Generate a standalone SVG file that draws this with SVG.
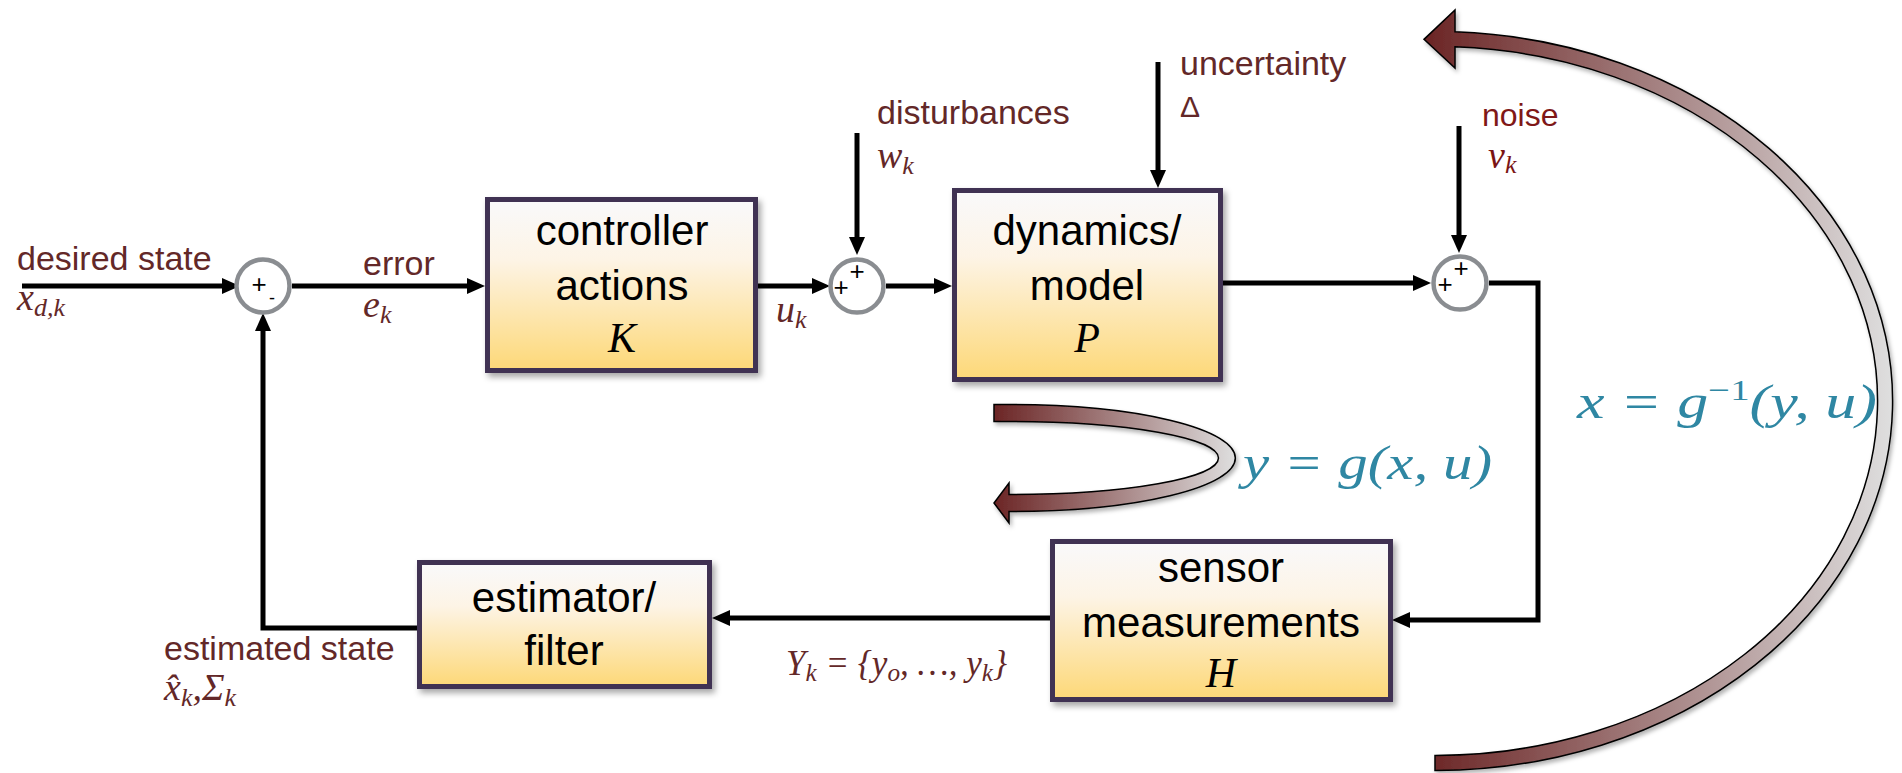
<svg xmlns="http://www.w3.org/2000/svg" width="1902" height="773" viewBox="0 0 1902 773">
  <style>
    .box { stroke: #3f3152; stroke-width: 5; fill: url(#boxFill); filter: url(#shadow); }
    .boxText { font-family: "Liberation Sans", Arial, sans-serif; font-size: 42px; fill: #000; text-anchor: middle; }
    .sym { font-family: "Liberation Serif", "Times New Roman", serif; font-style: italic; font-size: 42px; fill: #000; text-anchor: middle; }
    .label { font-family: "Liberation Sans", Arial, sans-serif; font-size: 34px; fill: #632828; }
    .math { font-family: "Liberation Serif", "Times New Roman", serif; font-style: italic; font-size: 38px; fill: #632828; }
    .sub { font-size: 26px; }
    .teal { font-family: "Liberation Serif", "Times New Roman", serif; font-style: italic; font-size: 48px; fill: #2f87a3; }
    .wire { fill: none; stroke: #000; stroke-width: 5; }
    .arrowed { marker-end: url(#head); }
    .sum { fill: #fff; stroke: #8a8d91; stroke-width: 4.5; }
    .sign { font-family: "Liberation Sans", Arial, sans-serif; font-size: 26px; fill: #000; text-anchor: middle; }
    .ribbon { stroke: #000; stroke-width: 1.5; filter: url(#softShadow); }
  </style>
  <defs>
    <linearGradient id="boxFill" x1="0" y1="0" x2="0" y2="1">
      <stop offset="0" stop-color="#f9f9fb"/>
      <stop offset="0.35" stop-color="#fdf4e6"/>
      <stop offset="1" stop-color="#fdd877"/>
    </linearGradient>
    <linearGradient id="bigBand" gradientUnits="userSpaceOnUse" x1="1425" y1="0" x2="1890" y2="0">
      <stop offset="0" stop-color="#6b2525"/>
      <stop offset="1" stop-color="#dedede"/>
    </linearGradient>
    <linearGradient id="smallBand" gradientUnits="userSpaceOnUse" x1="994" y1="0" x2="1235" y2="0">
      <stop offset="0" stop-color="#6b2525"/>
      <stop offset="1" stop-color="#dedede"/>
    </linearGradient>
    <filter id="shadow" x="-10%" y="-10%" width="130%" height="130%">
      <feDropShadow dx="3" dy="4" stdDeviation="3" flood-color="#000" flood-opacity="0.35"/>
    </filter>
    <filter id="softShadow" x="-10%" y="-10%" width="130%" height="130%">
      <feDropShadow dx="2" dy="3" stdDeviation="2" flood-color="#000" flood-opacity="0.3"/>
    </filter>
    <marker id="head" markerUnits="userSpaceOnUse" markerWidth="20" markerHeight="18" refX="10" refY="8" orient="auto">
      <path d="M0,0 L18,8 L0,16 Z" fill="#000"/>
    </marker>
  </defs>

  <!-- signal lines -->
  <g id="connectors">
    <path class="wire arrowed" d="M22,286 H232"/>
    <path class="wire arrowed" d="M292,286 H477"/>
    <path class="wire arrowed" d="M758,286 H822"/>
    <path class="wire arrowed" d="M886,286 H944"/>
    <path class="wire arrowed" d="M857,133 V247"/>
    <path class="wire arrowed" d="M1158,62 V180"/>
    <path class="wire arrowed" d="M1223,283 H1423"/>
    <path class="wire arrowed" d="M1459,126 V245"/>
    <path class="wire arrowed" d="M1489,283 H1538 V620 H1400"/>
    <path class="wire arrowed" d="M1050,618 H720"/>
    <path class="wire arrowed" d="M417,628 H263 V321"/>
  </g>

  <!-- summing junctions -->
  <g id="sum1">
    <circle class="sum" cx="263" cy="286" r="26.5"/>
    <text class="sign" x="259" y="293">+</text>
    <text class="sign" x="272" y="304" style="font-size:18px">-</text>
  </g>
  <g id="sum2">
    <circle class="sum" cx="857" cy="286" r="26.5"/>
    <text class="sign" x="841" y="296">+</text>
    <text class="sign" x="857" y="280">+</text>
  </g>
  <g id="sum3">
    <circle class="sum" cx="1460" cy="283" r="26.5"/>
    <text class="sign" x="1445" y="293">+</text>
    <text class="sign" x="1461" y="277">+</text>
  </g>

  <!-- blocks -->
  <g id="controller">
    <rect class="box" x="487.5" y="199.5" width="268" height="171"/>
    <text class="boxText" x="622" y="245">controller</text>
    <text class="boxText" x="622" y="300">actions</text>
    <text class="sym" x="622" y="352">K</text>
  </g>
  <g id="dynamics">
    <rect class="box" x="954.5" y="190.5" width="266" height="189"/>
    <text class="boxText" x="1087" y="245">dynamics/</text>
    <text class="boxText" x="1087" y="300">model</text>
    <text class="sym" x="1087" y="352">P</text>
  </g>
  <g id="sensor">
    <rect class="box" x="1052.5" y="541.5" width="338" height="158"/>
    <text class="boxText" x="1221" y="582">sensor</text>
    <text class="boxText" x="1221" y="637">measurements</text>
    <text class="sym" x="1221" y="687">H</text>
  </g>
  <g id="estimator">
    <rect class="box" x="419.5" y="562.5" width="290" height="124"/>
    <text class="boxText" x="564" y="612">estimator/</text>
    <text class="boxText" x="564" y="665">filter</text>
  </g>

  <!-- signal labels -->
  <g id="labels">
    <text class="label" x="17" y="270">desired state</text>
    <text class="math" x="17" y="310">x<tspan class="sub" dy="6">d,k</tspan></text>
    <text class="label" x="363" y="275">error</text>
    <text class="math" x="363" y="317">e<tspan class="sub" dy="6">k</tspan></text>
    <text class="math" x="776" y="322">u<tspan class="sub" dy="6">k</tspan></text>
    <text class="label" x="877" y="124">disturbances</text>
    <text class="math" x="877" y="168">w<tspan class="sub" dy="6">k</tspan></text>
    <text class="label" x="1180" y="75">uncertainty</text>
    <text class="label" x="1180" y="117" style="font-size:30px">Δ</text>
    <text class="label" x="1482" y="126" style="font-size:32px;fill:#7f1818">noise</text>
    <text class="math" x="1488" y="168" style="fill:#7a1414;font-size:38px">v<tspan class="sub" dy="5" style="font-size:26px">k</tspan></text>
    <text class="label" x="164" y="660">estimated state</text>
    <text class="math" x="164" y="700">x̂<tspan class="sub" dy="6">k</tspan><tspan dy="-6">,Σ</tspan><tspan class="sub" dy="6">k</tspan></text>
    <text class="math" x="786" y="675" style="font-size:36px" textLength="221" lengthAdjust="spacingAndGlyphs">Y<tspan class="sub" dy="6">k</tspan><tspan dy="-6"> = {y</tspan><tspan class="sub" dy="6">o</tspan><tspan dy="-6">, …, y</tspan><tspan class="sub" dy="6">k</tspan><tspan dy="-6">}</tspan></text>
  </g>

  <!-- measurement model and its inverse -->
  <g id="measurement-map">
    <path class="ribbon" fill="url(#smallBand)" d="M994,404.5 H1012 A223.5,53.5 0 0 1 1012,511.5 H1009 V523 L994,503 L1009,483 V494.5 H1012 A206.5,36.5 0 0 0 1012,421.5 H994 Z"/>
    <text class="teal" x="1243" y="479" textLength="249" lengthAdjust="spacingAndGlyphs">y = g(x, u)</text>
  </g>
  <g id="inverse-map">
    <path class="ribbon" fill="url(#bigBand)" d="M1455,31.85 A457.5,369.5 0 0 1 1435,770.5 L1435,755.5 A442.5,354.5 0 0 0 1455,46.86 L1455,68 L1424,39.35 L1455,10 Z"/>
    <text class="teal" x="1577" y="418" textLength="300" lengthAdjust="spacingAndGlyphs">x = g<tspan style="font-style:normal;font-size:30px" dy="-18">−1</tspan><tspan dy="18">(y, u)</tspan></text>
  </g>
</svg>
